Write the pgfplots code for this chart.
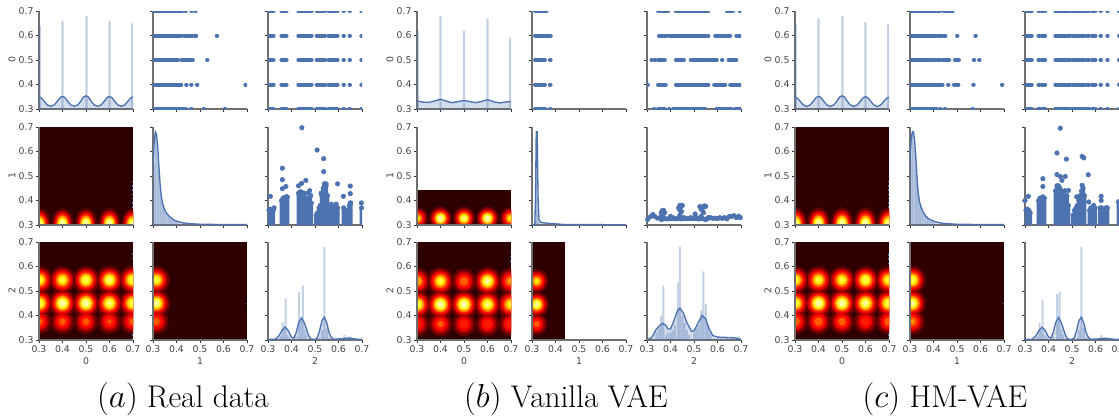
\documentclass[border=0pt]{standalone}
\usepackage{pgfplots}
\pgfplotsset{compat=1.18}
\usepackage{fontspec}
\newfontfamily\djv{DejaVu Sans}
\definecolor{bluepts}{HTML}{4C72B0}
\definecolor{spinec}{HTML}{707070}
\definecolor{tickc}{HTML}{333333}
\definecolor{textc}{HTML}{444444}
\definecolor{bgc}{HTML}{2E0000}
\definecolor{hA}{HTML}{630000}
\definecolor{hB}{HTML}{A80000}
\definecolor{hC}{HTML}{EF0000}
\definecolor{hD}{HTML}{FF1800}
\definecolor{hE}{HTML}{FF5C00}
\definecolor{hF}{HTML}{FFA000}
\definecolor{hG}{HTML}{FFE400}
\definecolor{hH}{HTML}{FFFF3B}
\definecolor{hI}{HTML}{FFFF9D}
\pgfplotsset{
 panel/.style={scale only axis,width=70.5pt,height=73.5pt,anchor=south west,
  xmin=0.3,xmax=0.7,ymin=0.3,ymax=0.7,
  xtick={0.3,0.4,0.5,0.6,0.7},ytick={0.3,0.4,0.5,0.6,0.7},
  xticklabels={,,,,},yticklabels={,,,,},scaled ticks=false,
  axis x line*=bottom,axis y line*=left,
  axis line style={-,spinec,line width=1pt},
  tick align=outside,major tick length=2.4pt,
  tick style={tickc,line width=0.6pt},
  tick label style={font=\djv\fontsize{7}{8}\selectfont,text=textc,inner sep=1.5pt},
  label style={font=\djv\fontsize{7}{8}\selectfont,text=textc}},
 xlab/.style={xticklabels={0.3,0.4,0.5,0.6,0.7},xlabel={#1},
  xlabel style={at={(axis description cs:0.5,-0.214)},anchor=center}},
 ylab/.style={yticklabels={0.3,0.4,0.5,0.6,0.7},ylabel={#1},
  ylabel style={at={(axis description cs:-0.287,0.5)},anchor=center}},
}
\makeatletter
% a blob is x/y/peak; each colour band is a set of marks drawn through the axis
\def\oneblob#1/#2/#3\relax#4#5#6#7{%
  \ifdim #3pt>#6pt
    \pgfmathsetmacro\blobr{#4*sqrt(2*ln(#3/#6))*176.25}%
    \edef\tmpblob{\noexpand\addplot[only marks,mark=*,mark size=\blobr pt,#7,mark options={yscale=#5,draw=none,fill=#7}] coordinates {(#1,#2)};}%
  \else
    \let\tmpblob\relax
  \fi
  \tmpblob}
\newcommand\band[5]{\@for\blobitem:=#1\do{\expandafter\oneblob\blobitem\relax{#2}{#3}{#4}{#5}}}
\def\runpair#1/#2\relax#3{\addplot[bluepts,line width=3pt,line cap=round] coordinates {(#1,#3)(#2,#3)};}
\newcommand\runs[2]{\@for\runitem:=#2\do{\expandafter\runpair\runitem\relax{#1}}}
\makeatother
\newcommand\bands[3]{%
 \band{#1}{#2}{#3}{0.1}{hA}\band{#1}{#2}{#3}{0.2}{hB}\band{#1}{#2}{#3}{0.3}{hC}%
 \band{#1}{#2}{#3}{0.4}{hD}\band{#1}{#2}{#3}{0.5}{hE}\band{#1}{#2}{#3}{0.6}{hF}%
 \band{#1}{#2}{#3}{0.7}{hG}\band{#1}{#2}{#3}{0.8}{hH}\band{#1}{#2}{#3}{0.9}{hI}}
\newcommand\bgfill[2]{\addplot[fill=bgc,draw=none] coordinates {(0.3,0.3)(#1,0.3)(#1,#2)(0.3,#2)};}
\newcommand\edgedots[2]{\addplot[bluepts,line width=0.8pt,dash pattern=on 1.2pt off 2pt] coordinates {(0.699,#1)(0.699,#2)};}
\newcommand\ptsdraw[1]{\addplot[only marks,mark=*,mark size=1.7pt,bluepts,mark options={draw=bluepts,fill=bluepts}] coordinates {#1};}
\newcommand\histo[2]{\addplot[ybar,bar width=#2,bar shift=0pt,fill=bluepts,fill opacity=0.33,draw=none] coordinates {#1};}
\newcommand\kdeline[1]{\addplot[draw=none,fill=bluepts,fill opacity=0.25] coordinates {(0.3,0.3) #1 (0.7,0.3)};
 \addplot[bluepts,line width=1pt] coordinates {#1};}
\newcommand\colsdraw[1]{\addplot[ybar,bar width=3pt,bar shift=0pt,fill=bluepts,draw=none] coordinates {#1};\ptsdraw{#1}}
% heat panel: clipped plot area first, then the frame with ticks on top
\newcommand\heat[4]{%
 \begin{scope}
 \clip (#1,#2) rectangle ++(70.5pt,73.5pt);
 \begin{axis}[panel,at={(#1,#2)},hide axis] #4 \end{axis}
 \end{scope}
 \begin{axis}[panel,at={(#1,#2)},#3] \end{axis}}
% blob lists x/y/peak
\def\HAa{0.303/0.545/0.85,0.4/0.545/0.85,0.5/0.545/0.9,0.6/0.545/0.92,0.697/0.545/0.9,0.303/0.45/0.9,0.4/0.45/1,0.5/0.45/1,0.6/0.45/0.92,0.697/0.45/0.9,0.303/0.375/0.55,0.4/0.375/0.55,0.5/0.375/0.55,0.6/0.375/0.52,0.697/0.375/0.55}
\def\HAb{0.315/0.545/0.85,0.315/0.45/0.95,0.315/0.375/0.56}
\def\HAc{0.303/0.305/0.95,0.4/0.305/1,0.5/0.305/1,0.6/0.305/1,0.697/0.305/0.95}
\def\HBa{0.303/0.54/0.7,0.4/0.54/0.85,0.5/0.54/0.6,0.6/0.54/0.95,0.697/0.54/0.65,0.303/0.445/0.9,0.4/0.445/1,0.5/0.445/1,0.6/0.445/0.92,0.697/0.445/0.82,0.303/0.365/0.5,0.4/0.365/0.55,0.5/0.365/0.5,0.6/0.365/0.5,0.697/0.365/0.5}
\def\HBb{0.32/0.54/0.75,0.32/0.445/0.95,0.32/0.365/0.55}
\def\HBc{0.302/0.327/0.75,0.4/0.327/1,0.5/0.327/0.92,0.6/0.327/1,0.698/0.327/0.78}
\def\HCa{0.303/0.545/0.85,0.4/0.545/0.85,0.5/0.545/0.85,0.6/0.545/0.9,0.697/0.545/0.85,0.303/0.45/0.88,0.4/0.45/1,0.5/0.45/1,0.6/0.45/0.95,0.697/0.45/0.9,0.303/0.375/0.6,0.4/0.375/0.6,0.5/0.375/0.58,0.6/0.375/0.5,0.697/0.375/0.58}
\def\HCb{0.31/0.545/0.9,0.31/0.45/0.95,0.31/0.375/0.62}
% clusters along the discrete levels
\def\clA{0.304/0.324,0.357/0.379,0.429/0.437,0.445/0.486,0.507/0.522,0.528/0.543,0.557/0.57,0.577/0.596,0.621/0.623,0.647/0.649,0.697/0.699}
\def\clC{0.307/0.329,0.357/0.362,0.372/0.386,0.429/0.493,0.504/0.515,0.522/0.553,0.564/0.572,0.585/0.6,0.621/0.623,0.65/0.652,0.7/0.702}
\begin{document}
\begin{tikzpicture}
\useasboundingbox (0pt,0pt) rectangle (839.25pt,311.25pt);
%%%%%%%%%%%%%%%%%%%% group a
\begin{axis}[panel,at={(29.25pt,229.5pt)},ylab=0]
\histo{(0.303,0.64)(0.4,0.66)(0.502,0.68)(0.6,0.66)(0.697,0.65)}{1.7pt}
\kdeline{(0.3,0.349)(0.31,0.345)(0.325,0.328)(0.335,0.317)(0.35,0.311)(0.365,0.317)(0.375,0.328)(0.39,0.347)(0.4,0.352)(0.41,0.347)(0.425,0.328)(0.435,0.317)(0.45,0.311)(0.465,0.317)(0.475,0.328)(0.49,0.349)(0.5,0.354)(0.51,0.349)(0.525,0.328)(0.535,0.317)(0.55,0.311)(0.565,0.317)(0.575,0.328)(0.59,0.347)(0.6,0.351)(0.61,0.347)(0.625,0.328)(0.635,0.317)(0.65,0.311)(0.665,0.317)(0.675,0.328)(0.69,0.345)(0.7,0.349)}
\end{axis}
\begin{axis}[panel,at={(114.75pt,229.5pt)}]
\runs{0.7}{{0.3/0.425,0.437/0.44,0.463/0.465,0.48/0.482}}
\runs{0.6}{{0.3/0.42,0.432/0.45,0.458/0.468,0.478/0.484,0.571/0.573}}
\runs{0.5}{{0.3/0.406,0.42/0.44,0.447/0.455,0.462/0.47,0.53/0.532}}
\runs{0.4}{{0.3/0.42,0.441/0.443,0.462/0.464,0.487/0.489,0.693/0.695}}
\runs{0.3}{{0.3/0.428,0.438/0.44,0.462/0.464,0.515/0.517,0.605/0.607}}
\end{axis}
\begin{axis}[panel,at={(201pt,229.5pt)}]
\runs{0.7}{\clA}\runs{0.6}{\clA}\runs{0.5}{\clA}\runs{0.4}{\clA}\runs{0.3}{\clA}
\end{axis}
\heat{29.25pt}{142.5pt}{ylab=1}{\bgfill{0.7}{0.7}\bands{\HAc}{0.021}{1.45}\edgedots{0.3}{0.49}}
\begin{axis}[panel,at={(114.75pt,142.5pt)}]
\histo{(0.303,0.55)(0.31,0.68)(0.317,0.65)(0.324,0.56)(0.331,0.46)(0.338,0.4)(0.345,0.38)(0.352,0.36)(0.359,0.345)(0.366,0.34)(0.373,0.33)(0.38,0.325)(0.387,0.322)(0.394,0.318)(0.401,0.315)}{0.9pt}
\kdeline{(0.3,0.55)(0.305,0.64)(0.31,0.68)(0.315,0.67)(0.32,0.62)(0.325,0.54)(0.33,0.47)(0.335,0.42)(0.34,0.39)(0.35,0.36)(0.36,0.345)(0.37,0.335)(0.38,0.327)(0.39,0.32)(0.4,0.316)(0.42,0.31)(0.45,0.306)(0.5,0.303)(0.6,0.302)(0.7,0.302)}
\end{axis}
\begin{axis}[panel,at={(201pt,142.5pt)}]
\colsdraw{(0.304,0.36)(0.31,0.365)(0.316,0.36)(0.322,0.36)(0.358,0.4)(0.364,0.41)(0.37,0.41)(0.376,0.415)(0.382,0.415)(0.43,0.43)(0.436,0.435)(0.442,0.435)(0.448,0.43)(0.454,0.43)(0.46,0.41)(0.466,0.4)(0.472,0.4)(0.478,0.41)(0.484,0.39)(0.505,0.34)(0.511,0.35)(0.517,0.37)(0.523,0.38)(0.529,0.42)(0.535,0.45)(0.541,0.46)(0.547,0.46)(0.553,0.42)(0.56,0.36)(0.566,0.37)(0.572,0.37)(0.578,0.37)(0.584,0.37)(0.59,0.37)(0.596,0.37)(0.622,0.37)(0.628,0.36)(0.634,0.36)(0.64,0.36)(0.646,0.38)(0.652,0.39)(0.698,0.37)}
\ptsdraw{(0.31,0.417)(0.326,0.37)(0.361,0.532)(0.361,0.485)(0.376,0.457)(0.361,0.448)(0.43,0.46)(0.443,0.47)(0.444,0.697)(0.461,0.482)(0.47,0.43)(0.477,0.44)(0.482,0.42)(0.509,0.606)(0.537,0.571)(0.537,0.518)(0.526,0.43)(0.54,0.468)(0.547,0.468)(0.596,0.468)(0.57,0.385)(0.59,0.385)(0.65,0.459)(0.65,0.428)(0.621,0.417)(0.697,0.39)(0.65,0.39)}
\end{axis}
\heat{29.25pt}{56.25pt}{xlab=0,ylab=2}{\bgfill{0.7}{0.7}\bands{\HAa}{0.027}{1.04}\edgedots{0.3}{0.33}\edgedots{0.42}{0.47}\edgedots{0.63}{0.66}}
\heat{114.75pt}{56.25pt}{xlab=1}{\bgfill{0.7}{0.7}\bands{\HAb}{0.027}{1.04}\edgedots{0.445}{0.455}}
\begin{axis}[panel,at={(201pt,56.25pt)},xlab=2]
\histo{(0.345,0.305)(0.355,0.315)(0.362,0.372)(0.368,0.35)(0.375,0.47)(0.382,0.32)(0.39,0.31)(0.42,0.315)(0.432,0.495)(0.44,0.38)(0.448,0.522)(0.455,0.34)(0.462,0.32)(0.52,0.31)(0.53,0.34)(0.54,0.68)(0.55,0.35)(0.56,0.31)(0.625,0.32)(0.635,0.31)(0.65,0.315)(0.66,0.305)(0.698,0.31)}{1.5pt}
\kdeline{(0.3,0.303)(0.33,0.303)(0.345,0.315)(0.36,0.34)(0.372,0.353)(0.385,0.34)(0.4,0.312)(0.41,0.308)(0.42,0.33)(0.43,0.37)(0.442,0.39)(0.455,0.37)(0.47,0.325)(0.48,0.305)(0.5,0.302)(0.51,0.31)(0.52,0.34)(0.53,0.38)(0.54,0.393)(0.55,0.37)(0.56,0.33)(0.57,0.31)(0.58,0.303)(0.62,0.306)(0.64,0.308)(0.66,0.306)(0.68,0.303)(0.7,0.302)}
\end{axis}
%%%%%%%%%%%%%%%%%%%% group b
\begin{axis}[panel,at={(312.75pt,229.5pt)},ylab=0]
\histo{(0.303,0.62)(0.4,0.68)(0.5,0.62)(0.6,0.67)(0.697,0.59)}{1.7pt}
\kdeline{(0.3,0.333)(0.325,0.328)(0.35,0.327)(0.375,0.333)(0.4,0.34)(0.425,0.332)(0.45,0.326)(0.475,0.33)(0.5,0.335)(0.525,0.33)(0.55,0.326)(0.575,0.331)(0.6,0.338)(0.625,0.33)(0.65,0.325)(0.675,0.328)(0.7,0.331)}
\end{axis}
\begin{axis}[panel,at={(399pt,229.5pt)}]
\runs{0.7}{{0.313/0.362}}
\runs{0.6}{{0.313/0.345,0.35/0.38}}
\runs{0.5}{{0.313/0.355,0.376/0.379}}
\runs{0.4}{{0.313/0.335,0.34/0.355,0.376/0.379}}
\runs{0.3}{{0.313/0.355,0.376/0.379}}
\end{axis}
\begin{axis}[panel,at={(485.25pt,229.5pt)}]
\runs{0.7}{{0.347/0.39,0.423/0.47,0.478/0.561,0.64/0.666,0.694/0.696}}
\runs{0.6}{{0.351/0.383,0.394/0.419,0.423/0.561,0.59/0.62,0.628/0.654,0.68/0.697}}
\runs{0.5}{{0.319/0.321,0.333/0.335,0.347/0.376,0.423/0.457,0.486/0.561,0.569/0.597,0.619/0.621,0.647/0.68}}
\runs{0.4}{{0.3/0.304,0.347/0.38,0.423/0.561,0.586/0.633,0.654/0.7}}
\runs{0.3}{{0.329/0.331,0.347/0.376,0.394/0.396,0.411/0.547,0.594/0.63,0.64/0.66,0.675/0.7}}
\end{axis}
\heat{312.75pt}{142.5pt}{ylab=1}{\bgfill{0.7}{0.443}\bands{\HBc}{0.022}{1.04}}
\begin{axis}[panel,at={(399pt,142.5pt)}]
\histo{(0.315,0.4)(0.32,0.68)(0.325,0.36)(0.33,0.31)}{0.9pt}
\kdeline{(0.3,0.3)(0.312,0.3)(0.315,0.42)(0.318,0.68)(0.322,0.68)(0.326,0.4)(0.33,0.32)(0.34,0.31)(0.38,0.306)(0.44,0.302)(0.7,0.301)}
\end{axis}
\begin{axis}[panel,at={(485.25pt,142.5pt)}]
\ptsdraw{(0.303,0.323)(0.315,0.334)(0.325,0.343)(0.333,0.335)(0.345,0.328)(0.355,0.33)(0.36,0.35)(0.365,0.358)(0.37,0.36)(0.375,0.35)(0.365,0.34)(0.372,0.33)(0.38,0.325)(0.362,0.322)(0.39,0.325)(0.4,0.335)(0.41,0.33)(0.42,0.325)(0.43,0.327)(0.435,0.37)(0.44,0.38)(0.445,0.375)(0.45,0.38)(0.44,0.36)(0.447,0.355)(0.44,0.34)(0.445,0.325)(0.455,0.33)(0.465,0.328)(0.475,0.326)(0.485,0.33)(0.495,0.328)(0.505,0.345)(0.51,0.33)(0.52,0.325)(0.525,0.375)(0.53,0.365)(0.535,0.36)(0.54,0.375)(0.545,0.378)(0.55,0.376)(0.54,0.35)(0.53,0.335)(0.54,0.325)(0.55,0.322)(0.56,0.33)(0.57,0.33)(0.58,0.327)(0.59,0.328)(0.6,0.326)(0.61,0.33)(0.62,0.327)(0.63,0.33)(0.64,0.325)(0.65,0.335)(0.66,0.335)(0.67,0.338)(0.68,0.33)(0.69,0.336)(0.697,0.33)}
\runs{0.325}{{0.37/0.44,0.445/0.56}}
\end{axis}
\heat{312.75pt}{56.25pt}{xlab=0,ylab=2}{\bgfill{0.7}{0.7}\bands{\HBa}{0.027}{1.04}\edgedots{0.62}{0.66}\edgedots{0.4}{0.56}}
\heat{399pt}{56.25pt}{xlab=1}{\bgfill{0.44}{0.7}\bands{\HBb}{0.024}{1.04}}
\begin{axis}[panel,at={(485.25pt,56.25pt)},xlab=2]
\histo{(0.34,0.33)(0.35,0.345)(0.36,0.4)(0.37,0.52)(0.38,0.32)(0.39,0.33)(0.4,0.33)(0.41,0.34)(0.42,0.36)(0.432,0.535)(0.44,0.68)(0.45,0.4)(0.46,0.37)(0.47,0.34)(0.48,0.32)(0.5,0.33)(0.51,0.35)(0.52,0.36)(0.53,0.42)(0.54,0.58)(0.55,0.445)(0.56,0.36)(0.57,0.33)(0.6,0.31)(0.62,0.31)(0.64,0.31)(0.66,0.31)(0.69,0.315)}{1.5pt}
\kdeline{(0.3,0.302)(0.32,0.31)(0.34,0.345)(0.355,0.36)(0.367,0.368)(0.38,0.36)(0.39,0.345)(0.4,0.345)(0.415,0.38)(0.43,0.42)(0.44,0.43)(0.455,0.41)(0.47,0.37)(0.49,0.335)(0.5,0.337)(0.52,0.375)(0.535,0.4)(0.55,0.385)(0.565,0.345)(0.58,0.318)(0.6,0.312)(0.65,0.31)(0.68,0.308)(0.7,0.302)}
\end{axis}
%%%%%%%%%%%%%%%%%%%% group c
\begin{axis}[panel,at={(596.25pt,229.5pt)},ylab=0]
\histo{(0.303,0.645)(0.4,0.67)(0.502,0.68)(0.6,0.655)(0.697,0.645)}{1.7pt}
\kdeline{(0.3,0.348)(0.31,0.344)(0.325,0.328)(0.335,0.317)(0.35,0.31)(0.365,0.317)(0.375,0.328)(0.39,0.347)(0.4,0.352)(0.41,0.347)(0.425,0.328)(0.435,0.317)(0.45,0.31)(0.465,0.317)(0.475,0.328)(0.49,0.349)(0.5,0.354)(0.51,0.349)(0.525,0.328)(0.535,0.317)(0.55,0.31)(0.565,0.317)(0.575,0.328)(0.59,0.346)(0.6,0.35)(0.61,0.346)(0.625,0.328)(0.635,0.317)(0.65,0.31)(0.665,0.317)(0.675,0.328)(0.69,0.344)(0.7,0.348)}
\end{axis}
\begin{axis}[panel,at={(682.5pt,229.5pt)}]
\runs{0.7}{{0.3/0.428,0.442/0.465,0.47/0.482}}
\runs{0.6}{{0.3/0.413,0.422/0.437,0.447/0.451,0.5/0.502,0.578/0.58}}
\runs{0.5}{{0.3/0.406,0.416/0.43,0.44/0.467,0.491/0.508,0.571/0.573,0.594/0.596}}
\runs{0.4}{{0.3/0.439,0.462/0.464,0.487/0.491,0.5/0.506,0.569/0.571,0.691/0.693}}
\runs{0.3}{{0.3/0.413,0.427/0.429,0.448/0.45,0.566/0.568}}
\end{axis}
\begin{axis}[panel,at={(768.75pt,229.5pt)}]
\runs{0.7}{\clC}\runs{0.6}{\clC}\runs{0.5}{\clC}\runs{0.4}{\clC}\runs{0.3}{\clC}
\end{axis}
\heat{596.25pt}{142.5pt}{ylab=1}{\bgfill{0.7}{0.7}\bands{\HAc}{0.022}{1.45}\edgedots{0.3}{0.49}}
\begin{axis}[panel,at={(682.5pt,142.5pt)}]
\histo{(0.303,0.58)(0.31,0.68)(0.317,0.66)(0.324,0.6)(0.331,0.5)(0.338,0.42)(0.345,0.39)(0.352,0.37)(0.359,0.355)(0.366,0.345)(0.373,0.335)(0.38,0.325)(0.387,0.322)(0.394,0.318)(0.401,0.315)}{0.9pt}
\kdeline{(0.3,0.56)(0.305,0.65)(0.31,0.68)(0.315,0.68)(0.32,0.64)(0.325,0.57)(0.33,0.49)(0.335,0.43)(0.34,0.395)(0.35,0.365)(0.36,0.345)(0.37,0.333)(0.38,0.325)(0.39,0.32)(0.4,0.316)(0.42,0.31)(0.45,0.306)(0.5,0.303)(0.6,0.302)(0.7,0.302)}
\end{axis}
\begin{axis}[panel,at={(768.75pt,142.5pt)}]
\colsdraw{(0.304,0.36)(0.31,0.365)(0.316,0.36)(0.322,0.35)(0.358,0.4)(0.364,0.41)(0.37,0.41)(0.376,0.415)(0.382,0.41)(0.43,0.44)(0.436,0.46)(0.442,0.46)(0.448,0.45)(0.454,0.44)(0.46,0.43)(0.466,0.42)(0.472,0.4)(0.478,0.42)(0.484,0.38)(0.505,0.34)(0.511,0.36)(0.517,0.37)(0.523,0.38)(0.529,0.4)(0.535,0.42)(0.541,0.44)(0.547,0.45)(0.553,0.42)(0.575,0.36)(0.58,0.37)(0.586,0.37)(0.592,0.38)(0.598,0.37)(0.62,0.37)(0.626,0.37)(0.632,0.36)(0.638,0.36)(0.644,0.37)(0.65,0.37)(0.698,0.395)}
\ptsdraw{(0.314,0.417)(0.3,0.4)(0.376,0.457)(0.376,0.489)(0.436,0.594)(0.436,0.506)(0.45,0.695)(0.45,0.498)(0.471,0.498)(0.476,0.569)(0.457,0.482)(0.485,0.441)(0.47,0.44)(0.543,0.58)(0.55,0.574)(0.543,0.462)(0.52,0.415)(0.569,0.505)(0.571,0.394)(0.624,0.417)(0.624,0.4)}
\end{axis}
\heat{596.25pt}{56.25pt}{xlab=0,ylab=2}{\bgfill{0.7}{0.7}\bands{\HCa}{0.027}{1.04}\edgedots{0.3}{0.35}\edgedots{0.4}{0.65}}
\heat{682.5pt}{56.25pt}{xlab=1}{\bgfill{0.7}{0.7}\bands{\HCb}{0.027}{1.04}\edgedots{0.445}{0.455}}
\begin{axis}[panel,at={(768.75pt,56.25pt)},xlab=2]
\histo{(0.345,0.305)(0.355,0.315)(0.362,0.37)(0.368,0.34)(0.375,0.465)(0.382,0.32)(0.39,0.31)(0.42,0.315)(0.437,0.487)(0.44,0.38)(0.447,0.498)(0.455,0.34)(0.462,0.32)(0.52,0.31)(0.53,0.34)(0.54,0.68)(0.55,0.35)(0.56,0.31)(0.625,0.32)(0.635,0.31)(0.65,0.31)(0.698,0.31)}{1.5pt}
\kdeline{(0.3,0.303)(0.33,0.303)(0.345,0.315)(0.36,0.34)(0.372,0.352)(0.385,0.34)(0.4,0.312)(0.41,0.308)(0.42,0.33)(0.43,0.37)(0.443,0.392)(0.455,0.37)(0.47,0.325)(0.48,0.305)(0.5,0.302)(0.51,0.31)(0.52,0.34)(0.53,0.38)(0.54,0.393)(0.55,0.37)(0.56,0.33)(0.57,0.31)(0.58,0.303)(0.62,0.305)(0.64,0.307)(0.66,0.305)(0.68,0.303)(0.7,0.302)}
\end{axis}
%%%%%%%%%%%%%%%%%%%% captions
\node[font=\fontsize{23.5}{28}\selectfont,anchor=base,text=black] at (137.25pt,6pt) {$(a)$ Real data};
\node[font=\fontsize{23.5}{28}\selectfont,anchor=base,text=black] at (424.5pt,6pt) {$(b)$ Vanilla VAE};
\node[font=\fontsize{23.5}{28}\selectfont,anchor=base,text=black] at (708.75pt,6pt) {$(c)$ HM-VAE};
\end{tikzpicture}
\end{document}
